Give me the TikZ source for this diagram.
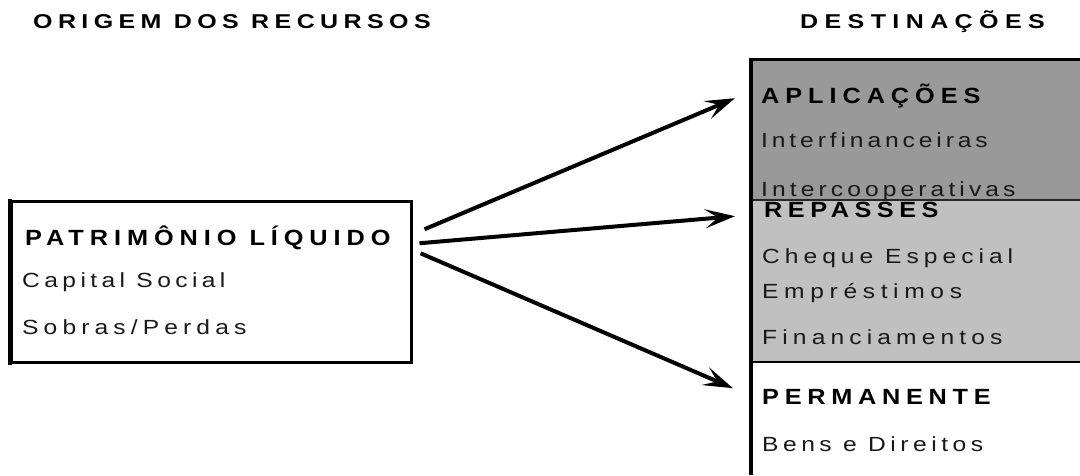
\documentclass[tikz,border=0pt]{standalone}
\usepackage{fontspec}
\setmainfont{Liberation Sans}
\newfontfamily\hdrfont[FakeStretch=1.25]{Liberation Sans}
\newfontfamily\bodyfont[FakeStretch=1.2]{Liberation Sans}
\newfontfamily\bfont[FakeStretch=1.15]{Liberation Sans}
\usetikzlibrary{arrows.meta}
\definecolor{darkfill}{HTML}{999999}
\definecolor{lightfill}{HTML}{C0C0C0}
\newcommand{\lsp}[2]{{\addfontfeatures{LetterSpace=#1}#2}}
\begin{document}
\begin{tikzpicture}[x=1pt,y=-1pt,
  body/.style={anchor=base west, inner sep=0pt, text=black!90, font=\bodyfont\fontsize{20.5}{22}\selectfont},
  boldtxt/.style={anchor=base west, inner sep=0pt, font=\bfont\fontsize{22}{24}\selectfont\bfseries},
  hdr/.style={anchor=base west, inner sep=0pt, font=\hdrfont\fontsize{20}{22}\selectfont\bfseries},
  arr/.style={line width=4pt, -{Stealth[length=30pt,width=19pt,inset=13pt]}},
  panel/.style={draw=none, inner sep=0pt, anchor=north west, minimum width=329pt}]
\useasboundingbox (0,0) rectangle (1080,475);

% headers
\node[hdr] (h1) at (33,28) {\lsp{27}{ORIGEM DOS RECURSOS}};
\node[hdr] (h2) at (800,28) {\lsp{32}{DESTINAÇÕES}};

% right panels
\node[panel, fill=darkfill, minimum height=141pt] (apl) at (751,59) {};
\node[panel, fill=lightfill, minimum height=162pt] (rep) at (751,200) {};
\node[panel, fill=white, minimum height=113pt] (perm) at (751,362) {};
\draw[line width=3pt] (apl.north west) -- (apl.north east);
\draw[line width=2pt, black!85] (apl.south west) -- (apl.south east);
\draw[line width=2pt] (rep.south west) -- (rep.south east);
\draw[line width=4.5pt] ([yshift=1.5pt]apl.north west) -- (perm.south west);

% left box
\node[draw, line width=2.5pt, minimum width=400pt, minimum height=161pt, anchor=north west, inner sep=0pt] (pl) at (10,200) {};
\draw[line width=4.5pt] ([yshift=1.25pt]pl.north west) -- ([yshift=-1.25pt]pl.south west);

% left texts
\node[boldtxt] (pt) at (25,245) {\lsp{27}{PATRIMÔNIO LÍQUIDO}};
\node[body] (cs) at (22,287) {\lsp{21.5}{Capital Social}};
\node[body] (sp) at (22,334) {\lsp{25}{Sobras/Perdas}};

% right texts
\node[boldtxt] (ta) at (761,103) {\lsp{27}{APLICAÇÕES}};
\node[body] (ti) at (761,147) {\lsp{19}{Interfinanceiras}};
\node[body] (tc) at (761,196) {\lsp{20}{Intercooperativas}};
\node[boldtxt] (tr) at (764,217) {\lsp{25}{REPASSES}};
\node[body] (tq) at (762,263) {\lsp{24.4}{Cheque Especial}};
\node[body] (te) at (762,298) {\lsp{27.5}{Empréstimos}};
\node[body] (tf) at (762,344) {\lsp{25}{Financiamentos}};
\node[boldtxt] (tp) at (762,404) {\lsp{26}{PERMANENTE}};
\node[body] (tb) at (762,451) {\lsp{22}{Bens e Direitos}};

% arrows
\draw[arr] ([shift={(12pt,52.5pt)}]pl.east) -- ([shift={(-16pt,31.5pt)}]apl.west);
\draw[arr] ([shift={(7pt,38.5pt)}]pl.east) -- ([shift={(-16pt,65pt)}]rep.west);
\draw[arr] ([shift={(8pt,28.5pt)}]pl.east) -- ([shift={(-18pt,30.5pt)}]perm.west);
\end{tikzpicture}
\end{document}
